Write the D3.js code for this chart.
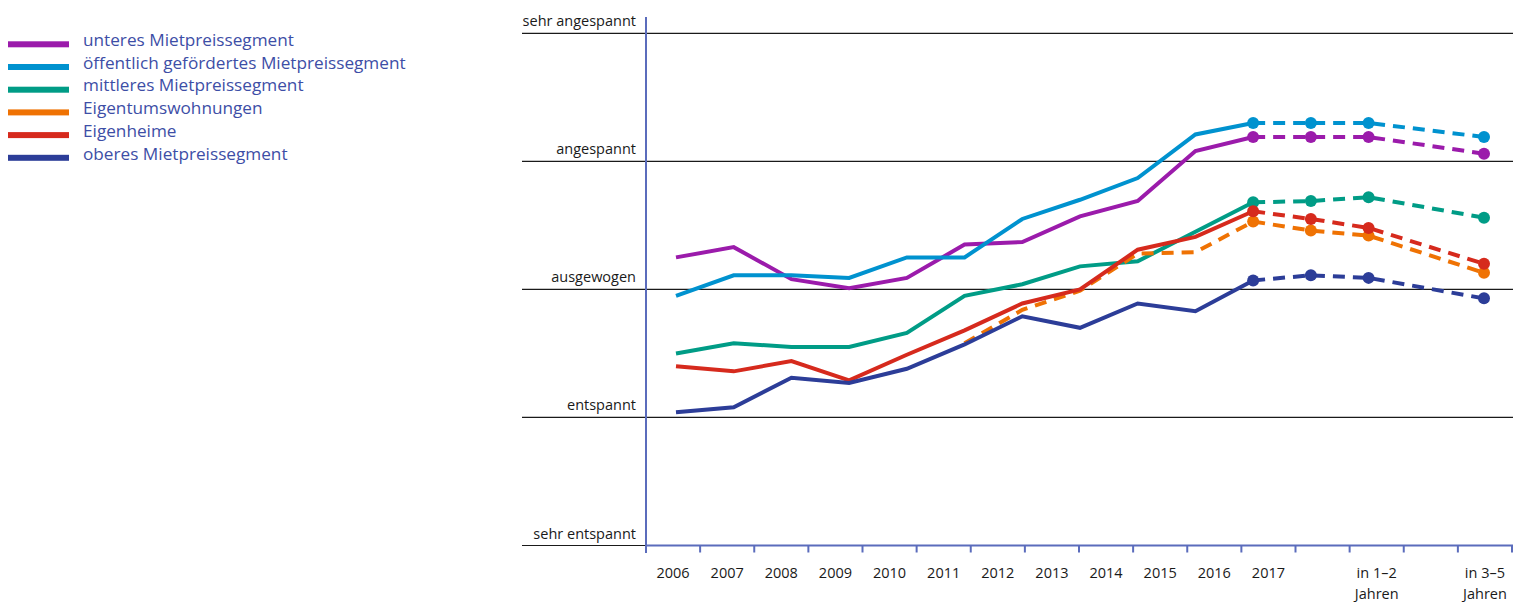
<!DOCTYPE html>
<html>
<head>
<meta charset="utf-8">
<script src="https://cdn.jsdelivr.net/npm/d3@7"></script>
<style>
  body { margin: 0; background: #fff; }
  svg { display: block; font-family: "Open Sans", "Noto Sans", sans-serif; }
</style>
</head>
<body>
<div id="chart"></div>
<script>
// Stufen der Einschätzung (0 = sehr entspannt ... 4 = sehr angespannt)
const levels = ["sehr entspannt", "entspannt", "ausgewogen", "angespannt", "sehr angespannt"];

// Achsenbeschriftung (Bänder)
const periods = ["2006", "2007", "2008", "2009", "2010", "2011", "2012", "2013", "2014", "2015", "2016", "2017",
                 "", "in 1–2 Jahren", "", "in 3–5 Jahren"];

// Positionen der Datenpunkte (Index), 13 bleibt leer
const steps = [0, 1, 2, 3, 4, 5, 6, 7, 8, 9, 10, 11, 12, 14];

const seriesNames = ["unteres Mietpreissegment", "öffentlich gefördertes Mietpreissegment", "mittleres Mietpreissegment",
                     "Eigentumswohnungen", "Eigenheime", "oberes Mietpreissegment"];
const seriesColors = ["#9b1bab", "#0092cf", "#009c86", "#ef7203", "#d62a1d", "#2c3d98"];

const unteres   = [2.25, 2.33, 2.08, 2.01, 2.09, 2.35, 2.37, 2.57, 2.69, 3.08, 3.19, 3.19, 3.19, 3.06];
const oeffentl  = [1.95, 2.11, 2.11, 2.09, 2.25, 2.25, 2.55, 2.70, 2.87, 3.21, 3.30, 3.30, 3.30, 3.19];
const mittleres = [1.50, 1.58, 1.55, 1.55, 1.66, 1.95, 2.04, 2.18, 2.22, 2.45, 2.68, 2.69, 2.72, 2.56];
const eigentum  = [null, null, null, null, null, 1.58, 1.84, 1.99, 2.28, 2.29, 2.53, 2.46, 2.42, 2.13];
const eigenheime= [1.40, 1.36, 1.44, 1.29, 1.49, 1.68, 1.89, 2.00, 2.31, 2.41, 2.61, 2.55, 2.48, 2.20];
const oberes    = [1.04, 1.08, 1.31, 1.27, 1.38, 1.57, 1.79, 1.70, 1.89, 1.83, 2.07, 2.11, 2.09, 1.93];

const seriesValues = [unteres, oeffentl, mittleres, eigentum, eigenheime, oberes];
const lastActual = 10; // ab hier Prognose (gestrichelt, mit Punkten)

const width = 1523, height = 602;
const svg = d3.select("#chart").append("svg")
  .attr("width", width)
  .attr("height", height);

const y = d3.scaleLinear().domain([0, 4]).range([545.5, 33.3]);
const xBand = d3.scaleBand().domain(periods.map((d, i) => i)).range([646, 1512]);
const x = d3.scaleLinear().domain([0, 14]).range([676, 1484]);

// Gitterlinien
svg.selectAll("line.grid")
  .data(levels)
  .enter()
  .append("line")
  .attr("class", "grid")
  .attr("x1", 522)
  .attr("x2", 1513)
  .attr("y1", (d, i) => y(i))
  .attr("y2", (d, i) => y(i))
  .attr("stroke", "#1a1a1a")
  .attr("stroke-width", 1.2);

svg.selectAll("text.ylab")
  .data(levels)
  .enter()
  .append("text")
  .attr("class", "ylab")
  .attr("x", 636)
  .attr("y", (d, i) => y(i) - 7)
  .attr("text-anchor", "end")
  .style("font-size", "14.5px")
  .style("fill", "#1a1a1a")
  .text(d => d);

// Achsen
const axisColor = "#5b6cbc";
svg.append("line")
  .attr("x1", 646).attr("x2", 646)
  .attr("y1", 17).attr("y2", 553)
  .attr("stroke", axisColor).attr("stroke-width", 2);

svg.append("line")
  .attr("x1", 646).attr("x2", 1513)
  .attr("y1", y(0)).attr("y2", y(0))
  .attr("stroke", axisColor).attr("stroke-width", 2);

const tickPos = periods.map((d, i) => xBand(i)).concat([xBand.range()[1]]);
svg.selectAll("line.xtick")
  .data(tickPos)
  .enter()
  .append("line")
  .attr("class", "xtick")
  .attr("x1", d => d).attr("x2", d => d)
  .attr("y1", y(0)).attr("y2", y(0) + 7)
  .attr("stroke", axisColor).attr("stroke-width", 2);

const xlab = svg.selectAll("text.xlab")
  .data(periods)
  .enter()
  .append("text")
  .attr("class", "xlab")
  .attr("text-anchor", "middle")
  .style("font-size", "14.5px")
  .style("fill", "#1a1a1a");

xlab.each(function(d, i) {
  const parts = d.startsWith("in ") ? [d.replace(" Jahren", ""), "Jahren"] : [d];
  d3.select(this).selectAll("tspan")
    .data(parts)
    .enter()
    .append("tspan")
    .attr("x", xBand(i) + xBand.bandwidth() / 2)
    .attr("y", (p, j) => 578 + j * 21)
    .text(p => p);
});

// Linien
const line = d3.line()
  .defined(d => d.v !== null)
  .x(d => x(d.k))
  .y(d => y(d.v));

seriesValues.forEach((vals, s) => {
  const pts = vals.map((v, i) => ({ k: steps[i], v, i }));
  const actual = pts.filter(p => p.i <= lastActual);
  const forecast = pts.filter(p => p.i >= lastActual);
  const dashedActual = s === 3;

  svg.append("path")
    .datum(actual)
    .attr("d", line)
    .attr("fill", "none")
    .attr("stroke", seriesColors[s])
    .attr("stroke-width", 4)
    .attr("stroke-dasharray", dashedActual ? "12,8" : null);

  svg.append("path")
    .datum(forecast)
    .attr("d", line)
    .attr("fill", "none")
    .attr("stroke", seriesColors[s])
    .attr("stroke-width", 4)
    .attr("stroke-dasharray", "12,8");

  svg.selectAll("circle.s" + s)
    .data(forecast)
    .enter()
    .append("circle")
    .attr("class", "s" + s)
    .attr("cx", d => x(d.k))
    .attr("cy", d => y(d.v))
    .attr("r", 6)
    .attr("fill", seriesColors[s]);
});

// Legende
const legend = svg.selectAll("g.legend")
  .data(seriesNames)
  .enter()
  .append("g")
  .attr("class", "legend")
  .attr("transform", (d, i) => `translate(0, ${44.3 + i * 22.7})`);

legend.append("rect")
  .attr("x", 8)
  .attr("y", -3)
  .attr("width", 61)
  .attr("height", 6)
  .attr("fill", (d, i) => seriesColors[i]);

legend.append("text")
  .attr("x", 83)
  .attr("y", 0)
  .attr("dy", "0.1em")
  .style("font-size", "17.2px")
  .style("fill", "#3d4ea6")
  .text(d => d);
</script>
</body>
</html>
